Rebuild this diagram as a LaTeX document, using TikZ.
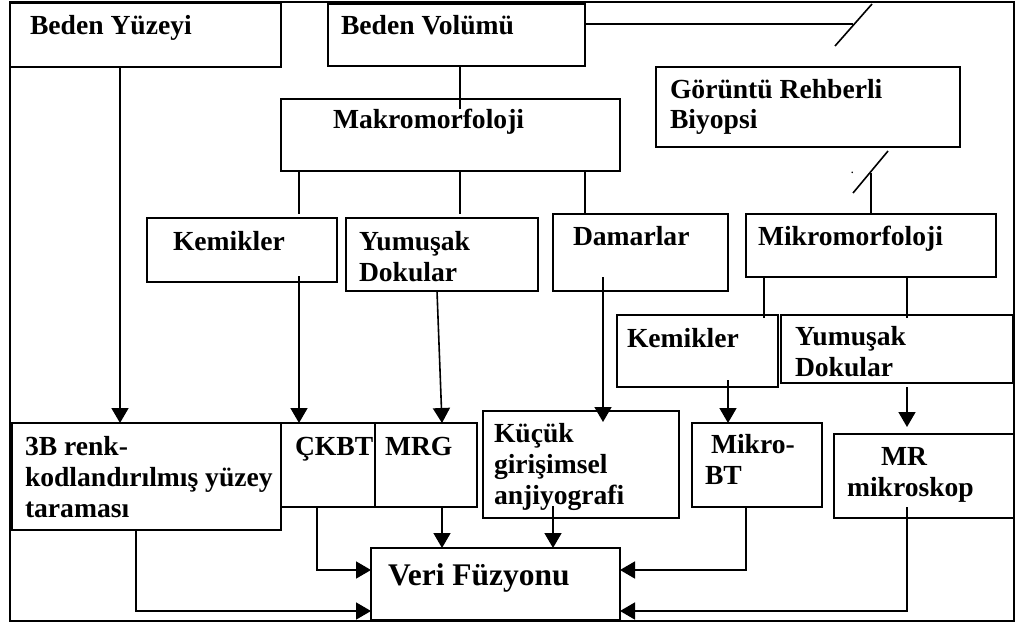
\documentclass[tikz,border=0pt]{standalone}
\usepackage{fontspec}
\setmainfont{Liberation Serif}
\usetikzlibrary{arrows.meta}
\newcommand\mlines[1]{\begin{tabular}[t]{@{}l@{}}#1\end{tabular}}
\tikzset{
  box/.style={draw, line width=2pt, rectangle, inner sep=0pt, outer sep=0pt, anchor=north west},
  lbl/.style={anchor=base west, inner sep=0pt, outer sep=0pt, font=\bfseries\fontsize{27.6}{31}\selectfont},
  biglbl/.style={lbl, font=\bfseries\fontsize{31.5}{36}\selectfont},
  dotlbl/.style={lbl, font=\fontsize{14}{16}\selectfont},
  conn/.style={line width=1.6pt},
  arr/.style={conn, -{Triangle[length=15pt,width=17pt]}}
}
\begin{document}
\begin{tikzpicture}[x=1pt,y=-1pt]
\useasboundingbox (0,0) rectangle (1017,626);
\fill[white] (0,0) rectangle (1017,626);
% outer frame
\draw[line width=2.2pt] (10,2) rectangle (1014,621);
% boxes
\node[box, minimum width=271pt, minimum height=64pt] (by) at (10,3) {};
\node[box, minimum width=257pt, minimum height=62pt] (bv) at (328,4) {};
\node[box, minimum width=339pt, minimum height=72pt] (mak) at (281,99) {};
\node[box, minimum width=304pt, minimum height=80pt] (gor) at (656,67) {};
\node[box, minimum width=190pt, minimum height=64pt] (kem1) at (147,218) {};
\node[box, minimum width=192pt, minimum height=73pt] (yum1) at (346,218) {};
\node[box, minimum width=175pt, minimum height=77pt] (dam) at (553,214) {};
\node[box, minimum width=250pt, minimum height=63pt] (mik) at (746,214) {};
\node[box, minimum width=161pt, minimum height=72pt] (kem2) at (617,315) {};
\node[box, minimum width=232pt, minimum height=68pt] (yum2) at (781,315) {};
\node[box, minimum width=269pt, minimum height=107pt] (tb) at (12,423) {};
\node[box, minimum width=94pt, minimum height=84pt] (ckbt) at (281,423) {};
\node[box, minimum width=102pt, minimum height=84pt] (mrg) at (375,423) {};
\node[box, minimum width=196pt, minimum height=107pt] (kuc) at (483,411) {};
\node[box, minimum width=130pt, minimum height=84pt] (mbt) at (692,423) {};
\node[box, minimum width=180pt, minimum height=84pt] (mr) at (834,434) {};
\node[box, minimum width=249pt, minimum height=72pt] (veri) at (371,548) {};
% texts
\node[lbl] (tby) at (30,35) {Beden Yüzeyi};
\node[lbl] (tbv) at (341,35) {Beden Volümü};
\node[lbl] (tmak) at (333,128) {Makromorfoloji};
\node[lbl] (tgor) at (670,99) {\mlines{Görüntü Rehberli\\[-2pt]Biyopsi}};
\node[lbl] (tkem1) at (173,250) {Kemikler};
\node[lbl] (tyum1) at (359,250) {\mlines{Yumuşak\\Dokular}};
\node[lbl] (tdam) at (573,245) {Damarlar};
\node[lbl] (tmik) at (758,245) {Mikromorfoloji};
\node[lbl] (tkem2) at (627,347) {Kemikler};
\node[lbl] (tyum2) at (795,345) {\mlines{Yumuşak\\Dokular}};
\node[lbl] (ttb) at (25,455) {\mlines{3B renk-\\kodlandırılmış yüzey\\taraması}};
\node[lbl] (tckbt) at (295,455) {ÇKBT};
\node[lbl] (tmrg) at (385,455) {MRG};
\node[lbl] (tkuc) at (494,442) {\mlines{Küçük\\girişimsel\\anjiyografi}};
\node[lbl] (tmbt) at (705,453) {\mlines{\hspace{6pt}Mikro-\\BT}};
\node[lbl] (tmr) at (847,465) {\mlines{\hspace{34pt}MR\\mikroskop}};
\node[biglbl] (tveri) at (388,585) {Veri Füzyonu};
\node[dotlbl] (tdot) at (850.5,173.5) {.};
% free ends
\coordinate (c1) at (853,24);
\coordinate (c2) at (871,173);
% connectors
\draw[arr] ([xshift=110pt]by.south west) -- ([xshift=108pt]tb.north west);
\draw[conn] ([xshift=132pt]bv.south west) -- ([xshift=179pt,yshift=-10pt]mak.north west);
\draw[conn] ([yshift=-20pt]bv.north east) -- (c1);
\draw[conn] (835,46) -- (872,4);
\draw[conn] ([xshift=18pt]mak.south west) -- ([xshift=152pt,yshift=4pt]kem1.north west);
\draw[conn] ([xshift=179pt]mak.south west) -- ([xshift=114pt,yshift=4pt]yum1.north west);
\draw[conn] ([xshift=304pt]mak.south west) -- ([xshift=32pt]dam.north west);
\draw[conn] (853,193) -- (888,151);
\draw[conn] (c2) -- ([xshift=125pt]mik.north west);
\draw[conn] ([xshift=18pt]mik.south west) -- ([xshift=147pt,yshift=-3pt]kem2.north west);
\draw[conn] ([xshift=161pt]mik.south west) -- ([xshift=126pt,yshift=-3pt]yum2.north west);
\draw[arr] ([xshift=152pt,yshift=6pt]kem1.south west) -- ([xshift=18pt]ckbt.north west);
\draw[arr] ([xshift=91pt]yum1.south west) -- ([xshift=67pt]mrg.north west);
\draw[arr] ([xshift=50pt,yshift=14pt]dam.south west) -- ([xshift=120pt,yshift=-11pt]kuc.north west);
\draw[arr] ([xshift=111pt,yshift=7pt]kem2.south west) -- ([xshift=36pt]mbt.north west);
\draw[arr] ([xshift=126pt,yshift=-4pt]yum2.south west) -- ([xshift=73pt,yshift=7pt]mr.north west);
\draw[arr] ([xshift=124pt]tb.south west) |- ([yshift=9pt]veri.south west);
\draw[arr] ([xshift=36pt]ckbt.south west) |- ([yshift=-22pt]veri.north west);
\draw[arr] ([xshift=67pt]mrg.south west) -- ([xshift=71pt]veri.north west);
\draw[arr] ([xshift=70pt,yshift=12pt]kuc.south west) -- ([xshift=182pt]veri.north west);
\draw[arr] ([xshift=54pt]mbt.south west) |- ([yshift=-22pt]veri.north east);
\draw[arr] ([xshift=73pt,yshift=11pt]mr.south west) |- ([yshift=9pt]veri.south east);
\end{tikzpicture}
\end{document}
